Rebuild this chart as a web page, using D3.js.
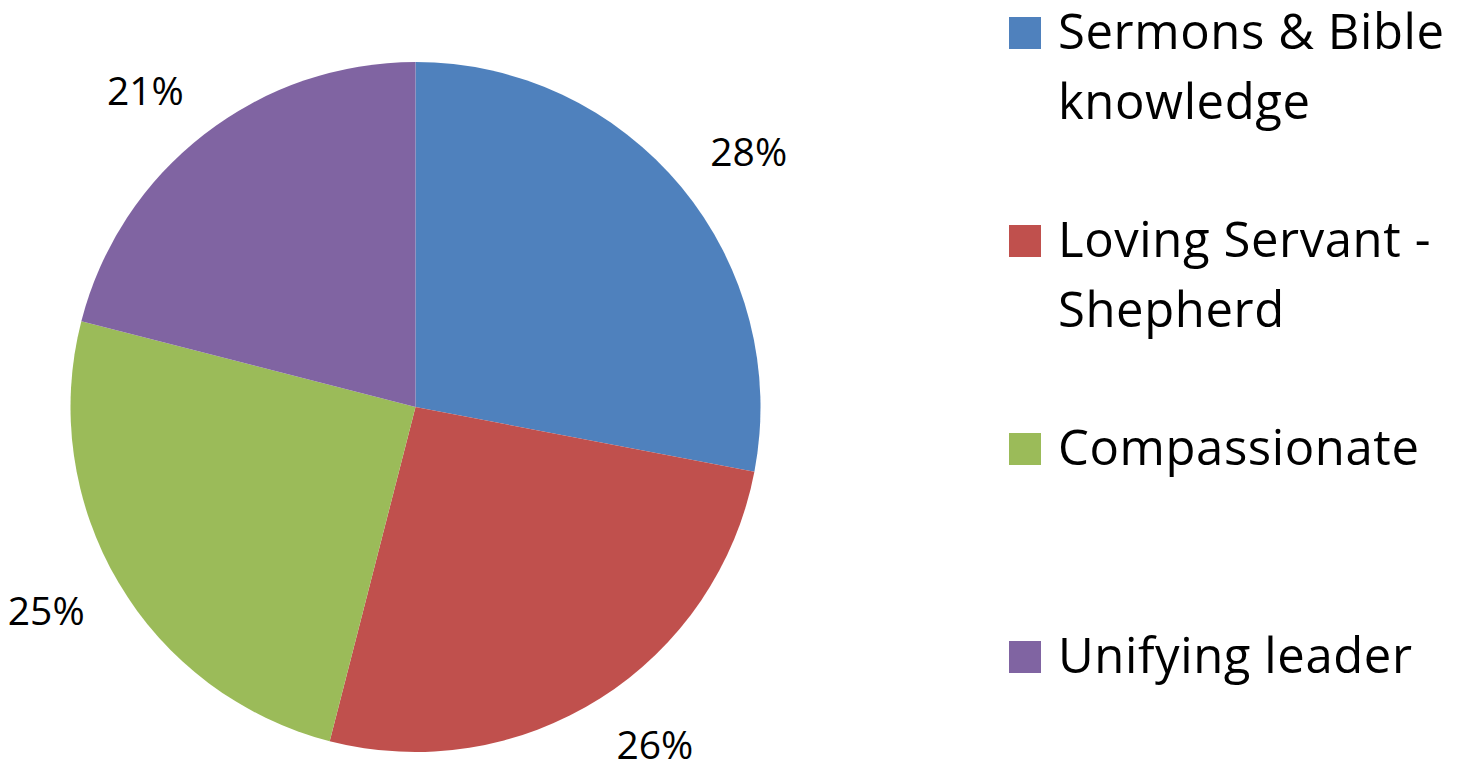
<!DOCTYPE html>
<html>
<head>
<meta charset="utf-8">
<script src="https://cdn.jsdelivr.net/npm/d3@7"></script>
<style>
  html, body { margin: 0; padding: 0; background: #fff; }
  svg { display: block; }
</style>
</head>
<body>
<svg id="chart" width="1467" height="766"></svg>
<script>
const categories = ["Sermons & Bible knowledge", "Loving Servant - Shepherd", "Compassionate", "Unifying leader"];
const legendLines = [["Sermons & Bible", "knowledge"], ["Loving Servant -", "Shepherd"], ["Compassionate"], ["Unifying leader"]];
const values = [28, 26, 25, 21];
const labels = ["28%", "26%", "25%", "21%"];
const colors = ["#4F81BD", "#C0504D", "#9BBB59", "#8064A2"];

const svg = d3.select("#chart");
const cx = 415.5, cy = 407, r = 345, labelR = 400, labelShift = 25;

const pie = d3.pie().sort(null).value(d => d)(values);
const arc = d3.arc().innerRadius(0).outerRadius(r);
const labelArc = d3.arc().innerRadius(labelR).outerRadius(labelR);

const g = svg.append("g").attr("transform", `translate(${cx},${cy})`);
g.selectAll("path").data(pie).join("path")
  .attr("d", arc)
  .attr("fill", (d, i) => colors[i]);

g.selectAll("text").data(pie).join("text")
  .attr("transform", d => {
    const [x, y] = labelArc.centroid(d);
    return `translate(${x + Math.sign(x) * labelShift},${y + 14})`;
  })
  .attr("text-anchor", "middle")
  .attr("font-family", "Open Sans")
  .attr("font-size", 39)
  .attr("fill", "#000")
  .text((d, i) => labels[i]);

const legend = svg.append("g");
const item = legend.selectAll("g").data(categories).join("g")
  .attr("transform", (d, i) => `translate(1009,${17 + i * 208})`);
item.append("rect").attr("width", 32).attr("height", 32)
  .attr("fill", (d, i) => colors[i]);
item.each(function(d, i) {
  const t = d3.select(this).append("text")
    .attr("font-family", "Open Sans")
    .attr("font-size", 49)
    .attr("letter-spacing", 0.6)
    .attr("fill", "#000");
  legendLines[i].forEach((ln, j) => {
    t.append("tspan").attr("x", 49).attr("y", 32 + j * 70).text(ln);
  });
});
</script>
</body>
</html>
